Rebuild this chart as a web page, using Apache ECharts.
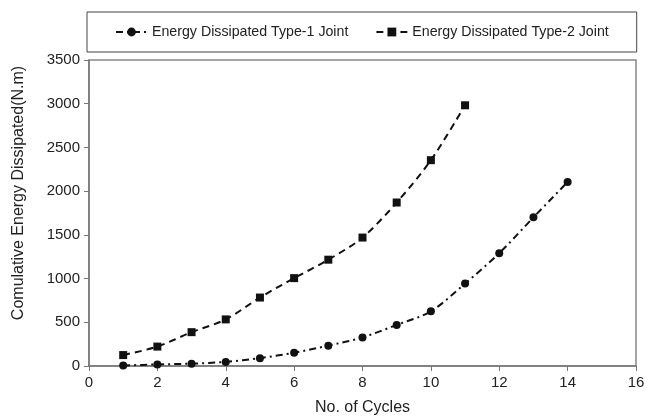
<!DOCTYPE html>
<html>
<head>
<meta charset="utf-8">
<script src="https://cdn.jsdelivr.net/npm/echarts@6/dist/echarts.min.js"></script>
<style>
html,body{margin:0;padding:0;background:#fff;}
#chart{width:652px;height:419px;}
</style>
</head>
<body>
<div id="chart"></div>
<script>
const cycles1 = [1, 2, 3, 4, 5, 6, 7, 8, 9, 10, 11, 12, 13, 14];
const energyType1 = [5, 18, 27, 47, 90, 152, 233, 327, 470, 625, 943, 1290, 1700, 2105];
const cycles2 = [1, 2, 3, 4, 5, 6, 7, 8, 9, 10, 11];
const energyType2 = [125, 222, 387, 533, 783, 1005, 1216, 1469, 1870, 2354, 2982];
const seriesNames = ['Energy Dissipated Type-1 Joint', 'Energy Dissipated Type-2 Joint'];
const xTitle = 'No. of Cycles';
const yTitle = 'Comulative Energy Dissipated(N.m)';

const FONT = '"Liberation Sans", Arial, sans-serif';
const chart = echarts.init(document.getElementById('chart'), null, {renderer: 'canvas'});

function pairs(xs, ys) { return xs.map((x, i) => [x, ys[i]]); }

chart.setOption({
  animation: false,
  backgroundColor: '#fff',
  textStyle: {fontFamily: FONT, color: '#222'},
  legend: {
    orient: 'horizontal',
    left: 87, top: 12,
    padding: [13, 28, 13, 28],
    borderColor: '#444', borderWidth: 1,
    itemWidth: 31, itemHeight: 11, itemGap: 27,
    textStyle: {fontFamily: FONT, fontSize: 14.2, color: '#222'},
    data: seriesNames
  },
  grid: {
    left: 89, right: 16, top: 60, bottom: 53,
    show: true, borderColor: '#888', borderWidth: 1.5,
    containLabel: false,
    outerBoundsMode: 'none'
  },
  xAxis: {
    type: 'value', min: 0, max: 16, interval: 2,
    name: xTitle, nameLocation: 'middle', nameGap: 34,
    nameTextStyle: {fontFamily: FONT, fontSize: 16, color: '#222'},
    axisLine: {onZero: false, lineStyle: {color: '#777', width: 1.5}},
    axisTick: {show: true, inside: false, length: 5, lineStyle: {color: '#777'}},
    axisLabel: {fontFamily: FONT, fontSize: 15, color: '#222', margin: 9},
    splitLine: {show: false}
  },
  yAxis: {
    type: 'value', min: 0, max: 3500, interval: 500,
    name: yTitle, nameLocation: 'middle', nameGap: 62, nameRotate: 90,
    nameTextStyle: {fontFamily: FONT, fontSize: 16, color: '#222', padding: [0, 0, 0, 40]},
    axisLine: {show: true, lineStyle: {color: '#777', width: 1.5}},
    axisTick: {show: true, inside: false, length: 5, lineStyle: {color: '#777'}},
    axisLabel: {fontFamily: FONT, fontSize: 15, color: '#222', margin: 9, formatter: v => String(v)},
    splitLine: {show: false}
  },
  series: [
    {
      name: seriesNames[0], type: 'line', smooth: 0.3,
      data: pairs(cycles1, energyType1),
      symbol: 'circle', symbolSize: 8,
      itemStyle: {color: '#111'},
      lineStyle: {color: '#111', width: 2, type: [7, 4, 2, 4]}
    },
    {
      name: seriesNames[1], type: 'line', smooth: 0.3,
      data: pairs(cycles2, energyType2),
      symbol: 'rect', symbolSize: 8,
      itemStyle: {color: '#111'},
      lineStyle: {color: '#111', width: 2, type: [7, 5]}
    }
  ]
});
</script>
</body>
</html>
